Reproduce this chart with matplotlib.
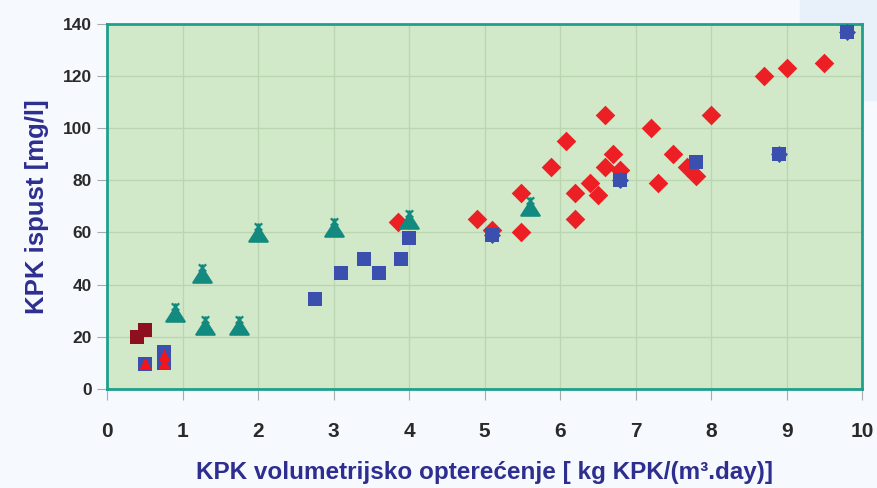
import numpy as np
import matplotlib.pyplot as plt
from matplotlib.path import Path
from matplotlib.patches import Rectangle

# data
maroon_x = [0.4, 0.5]
maroon_y = [20, 22.5]

teal_x = [0.9, 1.26, 1.3, 1.75, 2.0, 3.0, 4.0, 5.6]
teal_y = [29.5, 44.5, 24.5, 24.5, 60, 62, 65, 70]

blue_x = [0.5, 0.75, 0.75, 2.75, 3.1, 3.4, 3.6, 3.9, 4.0, 5.1, 6.8, 7.8, 8.9, 9.8]
blue_y = [9.5, 10, 14, 34.5, 44.5, 50, 44.5, 50, 58, 59, 80, 87, 90, 137]

# blue points drawn with the spiky outline
bstar_x = [5.1, 6.8, 8.9, 9.8]
bstar_y = [59, 80, 90, 137]

redtri_x = [0.5, 0.75, 0.75]
redtri_y = [10, 10, 13]

red_x = [3.85, 4.9, 5.1, 5.48, 5.48, 5.88, 6.08, 6.2, 6.2, 6.4, 6.5, 6.6, 6.6, 6.7,
         6.8, 7.2, 7.3, 7.5, 7.68, 7.8, 8.0, 8.7, 9.0, 9.5]
red_y = [64, 65, 61, 60, 75, 85, 95, 75, 65, 79, 74.5, 85, 105, 90,
         84, 100, 79, 90, 85, 81.5, 105, 120, 123, 125]

# pawn-like marker: triangle with small spikes on top
pawn = Path(
    [(-0.5, -0.5), (0.5, -0.5), (0.0, 0.28), (-0.5, -0.5),
     (-0.2, 0.5), (0.2, 0.1),
     (0.2, 0.5), (-0.2, 0.1),
     (0.0, 0.5), (0.0, 0.15)],
    [Path.MOVETO, Path.LINETO, Path.LINETO, Path.CLOSEPOLY,
     Path.MOVETO, Path.LINETO,
     Path.MOVETO, Path.LINETO,
     Path.MOVETO, Path.LINETO])

fig = plt.figure(figsize=(8.77, 4.88), dpi=100, facecolor='#f6f9fd')
# faint bluish area in the top right corner, behind the plot
fig.patches.append(Rectangle((800 / 877, 1 - 100 / 488), 77 / 877, 100 / 488,
                             transform=fig.transFigure, color='#e8f0fa', zorder=-5))
ax = fig.add_axes([0.122, 0.203, 0.861, 0.748])
ax.set_zorder(1)
ax.set_facecolor('#d2e9c9')

ax.scatter(red_x, red_y, marker='D', s=100, c='#ec2024', zorder=3, linewidths=0)
ax.scatter(blue_x, blue_y, marker='s', s=110, c='#3a4fae', zorder=4, linewidths=0)
ax.scatter(bstar_x, bstar_y, marker='D', s=75, c='#3a4fae', zorder=4, linewidths=0)
ax.scatter(redtri_x, redtri_y, marker='^', s=75, c='#f2161c', zorder=5, linewidths=0)
ax.scatter(teal_x, teal_y, marker=pawn, s=175, c='#138a80', edgecolors='#138a80',
           zorder=5, linewidths=1.6)
ax.scatter(maroon_x, maroon_y, marker='s', s=110, c='#8c1020', zorder=5, linewidths=0)

ax.set_xlim(0, 10)
ax.set_ylim(0, 140)
ax.set_xticks(np.arange(0, 11, 1))
ax.set_yticks(np.arange(0, 141, 20))
ax.grid(True, color='#b9d6b1', lw=1)
ax.set_axisbelow(True)

for sp in ax.spines.values():
    sp.set_color('#1fa08c')
    sp.set_linewidth(2)

ax.tick_params(axis='x', length=8, color='#aaaaaa', pad=16, labelsize=15, labelcolor='#2a2a2a')
ax.tick_params(axis='y', length=7, color='#aaaaaa', pad=4, labelsize=12.5, labelcolor='#2a2a2a')
for lab in ax.get_xticklabels() + ax.get_yticklabels():
    lab.set_fontfamily('Liberation Sans')
    lab.set_fontweight('bold')

ax.set_xlabel('KPK volumetrijsko opterećenje [ kg KPK/(m³.day)]', fontsize=17.5, fontweight='bold',
              color='#2e2e90', family='Liberation Sans', labelpad=14)
ax.set_ylabel('KPK ispust [mg/l]', fontsize=18.5, fontweight='bold',
              color='#2e2e90', family='Liberation Sans', labelpad=10)

fig.savefig('out.png', dpi=100, facecolor=fig.get_facecolor())
